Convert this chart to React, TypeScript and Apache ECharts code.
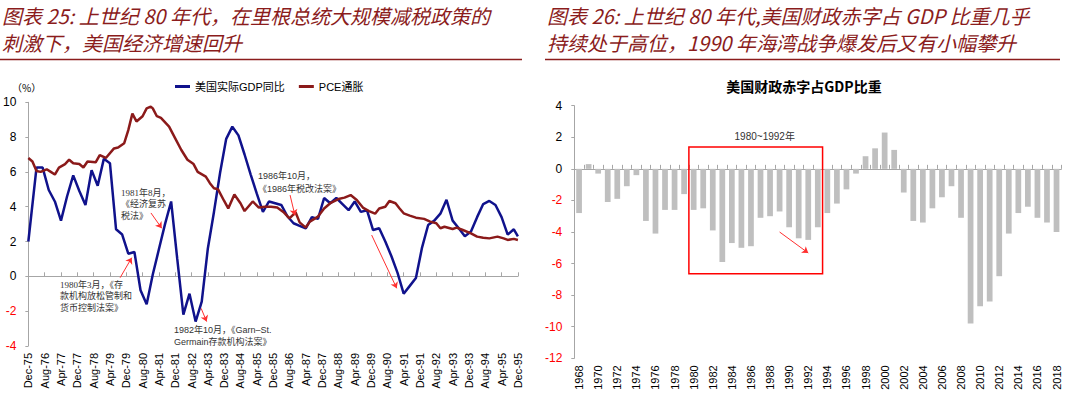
import React, { useEffect, useRef } from "react";
import * as echarts from "echarts";

// ---------- Left chart data (month index 0 = Dec-75, 240 = Dec-95) ----------
const monthNames = ["Jan", "Feb", "Mar", "Apr", "May", "Jun", "Jul", "Aug", "Sep", "Oct", "Nov", "Dec"];

// US real GDP YoY (%), quarterly
const gdpMonths = [
  0, 4, 7, 10, 13, 16, 19, 22, 25, 28,
  31, 34, 37, 40, 43, 46, 49, 52, 55, 58,
  61, 64, 67, 70, 73, 76, 79, 82, 85, 88,
  91, 94, 97, 100, 103, 106, 109, 112, 115, 118,
  121, 124, 127, 130, 133, 136, 139, 142, 145, 148,
  151, 154, 157, 160, 163, 166, 169, 172, 175, 178,
  181, 184, 187, 190, 193, 196, 199, 202, 205, 208,
  211, 214, 217, 220, 223, 226, 229, 232, 235, 238,
  240,
];
const gdpValues = [
  2.0, 6.25, 6.25, 4.96, 4.3, 3.2, 4.6, 5.8, 4.9, 4.1,
  6.1, 5.2, 6.75, 6.5, 2.7, 2.4, 1.3, 1.4, -0.8, -1.6,
  0.1, 1.55, 3.0, 4.3, 1.0, -2.2, -1.0, -2.6, -1.45, 1.6,
  3.7, 5.95, 7.9, 8.6, 8.1, 7.0, 5.85, 4.75, 3.7, 4.3,
  4.2, 4.1, 3.45, 3.05, 2.9, 2.75, 3.4, 3.3, 4.5, 4.2,
  4.5, 4.15, 3.8, 4.3, 3.7, 3.8, 2.66, 2.76, 2.0, 1.15,
  0.2, -1.0, -0.55, -0.1, 1.65, 2.95, 3.2, 3.6, 4.4, 3.2,
  2.76, 2.3, 2.57, 3.4, 4.15, 4.33, 4.1, 3.4, 2.4, 2.7,
  2.3,
];

// PCE inflation (%)
const pceMonths = [
  0, 2, 4, 6, 9, 11, 13, 15, 18, 20, 22, 25, 27, 29, 33, 35, 38, 42, 44, 47,
  49, 51, 53, 56, 58, 60, 61, 63, 65, 69, 72, 75, 78, 81, 83, 87, 89, 91, 93, 96,
  98, 101, 104, 106, 110, 113, 116, 119, 122, 125, 128, 131, 133, 136, 138, 142, 145, 148, 152, 155,
  158, 161, 164, 167, 170, 172, 175, 177, 180, 182, 184, 187, 190, 194, 197, 200, 202, 204, 208, 210,
  213, 217, 220, 223, 226, 230, 233, 235, 238, 240,
];
const pceValues = [
  6.8, 6.6, 6.05, 6.0, 6.15, 6.0, 5.85, 6.25, 6.45, 6.7, 6.5, 6.45, 6.25, 6.6, 6.55, 6.97, 6.8, 7.35, 7.4, 7.65,
  8.4, 9.35, 8.9, 9.2, 9.65, 9.75, 9.65, 9.2, 9.1, 8.6, 7.93, 7.26, 6.7, 6.45, 6.0, 5.73, 5.35, 5.06, 5.0, 4.33,
  3.9, 4.7, 4.2, 3.75, 4.3, 3.95, 4.0, 4.0, 3.95, 3.7, 3.33, 3.68, 3.1, 2.8, 3.14, 3.43, 3.9, 4.2, 4.44, 4.52,
  4.67, 4.39, 3.95, 3.75, 3.6, 3.9, 4.0, 4.33, 4.2, 3.9, 3.62, 3.49, 3.37, 3.3, 3.14, 3.05, 2.76, 2.85, 2.72, 2.8,
  2.66, 2.47, 2.28, 2.22, 2.18, 2.28, 2.18, 2.09, 2.15, 2.09,
];

// annotation arrows on left chart: [fromMonth, fromValue, toMonth, toValue]
const leftArrows = [
  [60.1, 3.64, 65.4, 2.76],
  [45.0, -0.08, 50.7, 1.07],
  [84.7, -1.84, 87.4, -2.6],
  [128.3, 4.67, 130.7, 3.5],
  [168.3, 2.37, 180.6, -0.69],
];

// ---------- Right chart data ----------
const years = [
  "1968", "1969", "1970", "1971", "1972", "1973", "1974", "1975", "1976", "1977",
  "1978", "1979", "1980", "1981", "1982", "1983", "1984", "1985", "1986", "1987",
  "1988", "1989", "1990", "1991", "1992", "1993", "1994", "1995", "1996", "1997",
  "1998", "1999", "2000", "2001", "2002", "2003", "2004", "2005", "2006", "2007",
  "2008", "2009", "2010", "2011", "2012", "2013", "2014", "2015", "2016", "2017",
  "2018",
];
const deficitValues = [
  -2.8, 0.3, -0.3, -2.1, -1.9, -1.1, -0.4, -3.3, -4.1, -2.6,
  -2.6, -1.6, -2.6, -2.5, -3.9, -5.9, -4.7, -5.0, -4.9, -3.1,
  -3.0, -2.7, -3.7, -4.4, -4.5, -3.7, -2.8, -2.2, -1.3, -0.3,
  0.8, 1.3, 2.3, 1.2, -1.5, -3.3, -3.4, -2.5, -1.8, -1.1,
  -3.1, -9.8, -8.7, -8.4, -6.8, -4.1, -2.8, -2.4, -3.1, -3.4,
  -4.0,
];
const rightArrow = [21.36, -4.0, 23.87, -5.33];
const boxRange = [11.5, 1.38, 24.5, -6.64];

// ---------- Texts ----------
const leftTitle = ["图表 25: 上世纪 80 年代，在里根总统大规模减税政策的", "刺激下，美国经济增速回升"];
const rightTitle = ["图表 26: 上世纪 80 年代,美国财政赤字占 GDP 比重几乎", "持续处于高位，1990 年海湾战争爆发后又有小幅攀升"];
const legendNames = ["美国实际GDP同比", "PCE通胀"];

const SANS = "'Liberation Sans', Arial, 'Noto Sans CJK SC', sans-serif";
const SERIF = "'Liberation Serif', 'Noto Sans CJK SC', serif";
const TITLE_COLOR = "#8B1C1C";
const AXIS_GRAY = "#A6A6A6";

function monthLabel(v: number) {
  const t = 11 + Math.round(v);
  return monthNames[t % 12] + "-" + String(75 + Math.floor(t / 12));
}

const labelColor = (v: any) => (Number(v) < 0 ? "#FF0000" : "#000000");

export default function App() {
  const ref = useRef<HTMLDivElement>(null);

  useEffect(() => {
    if (!ref.current) return;
    const chart = echarts.init(ref.current, undefined, { renderer: "svg" });

    const titleText = (text: string, x: number, y: number) => ({
      type: "text",
      x,
      y,
      style: {
        text,
        fill: TITLE_COLOR,
        fontSize: 20,
        lineHeight: 22,
        fontStyle: "italic",
        fontFamily: "'Noto Sans CJK SC', sans-serif",
        verticalAlign: "middle",
        align: "left",
      },
    });

    const note = (text: string, x: number, y: number, lh: number, family: string) => ({
      type: "text",
      x,
      y,
      style: {
        text,
        fill: "#333333",
        fontSize: 9,
        lineHeight: lh,
        fontFamily: family,
        verticalAlign: "top",
        align: "left",
      },
    });

    const option: any = {
      animation: false,
      textStyle: { fontFamily: SANS },
      graphic: [
        titleText(leftTitle[0], 2, 15),
        titleText(leftTitle[1], 2, 42),
        titleText(rightTitle[0], 547, 15),
        titleText(rightTitle[1], 547, 42),
        { type: "line", shape: { x1: 0, y1: 59.5, x2: 522, y2: 59.5 }, style: { stroke: TITLE_COLOR, lineWidth: 1.5 } },
        { type: "line", shape: { x1: 545, y1: 59.5, x2: 1060, y2: 59.5 }, style: { stroke: TITLE_COLOR, lineWidth: 1.5 } },
        {
          type: "text", x: 12, y: 87,
          style: { text: "（%）", fill: "#000", fontSize: 10, fontFamily: "'Noto Sans CJK SC', sans-serif", verticalAlign: "middle" },
        },
        {
          type: "text", x: 804, y: 86,
          style: { text: "美国财政赤字占GDP比重", fill: "#000", fontSize: 14, fontWeight: "bold", fontFamily: "'Noto Sans CJK SC', sans-serif", align: "center", verticalAlign: "middle" },
        },
        note("1981年8月，\n《经济复苏\n税法》", 121, 187, 11.5, SERIF),
        note("1980年3月，《存\n款机构放松管制和\n货币控制法案》", 60, 279, 11.5, SERIF),
        note("1982年10月，《Garn–St.\nGermain存款机构法案》", 174, 324, 11.7, SANS),
        note("1986年10月，\n《1986年税改法案》", 258, 169.5, 13, SANS),
      ],
      legend: {
        left: 170,
        top: 76,
        icon: "rect",
        itemWidth: 15,
        itemHeight: 3,
        itemGap: 14,
        textStyle: { fontSize: 11, color: "#000" },
        data: legendNames,
      },
      grid: [
        { left: 28.3, top: 102.3, width: 489.6, height: 243.6 },
        { left: 574.3, top: 105.7, width: 487, height: 252.6 },
      ],
      xAxis: [
        {
          type: "value", gridIndex: 0, min: 0, max: 240, interval: 8, position: "bottom",
          axisLine: { show: false, onZero: false }, axisTick: { show: false }, splitLine: { show: false },
          axisLabel: { rotate: 90, margin: 7, fontSize: 11, color: "#000", formatter: monthLabel },
        },
        {
          type: "value", gridIndex: 0, min: 0, max: 240, interval: 8, position: "bottom",
          axisLine: { show: true, onZero: true, lineStyle: { color: AXIS_GRAY, width: 1 } },
          axisTick: { show: true, inside: true, length: 4, lineStyle: { color: AXIS_GRAY } },
          axisLabel: { show: false }, splitLine: { show: false },
        },
        {
          type: "category", gridIndex: 1, data: years, position: "bottom",
          axisLine: { show: false, onZero: false }, axisTick: { show: false },
          axisLabel: { rotate: 90, interval: 1, margin: 7, fontSize: 11, color: "#000" },
        },
        {
          type: "category", gridIndex: 1, data: years, position: "bottom",
          axisLine: { show: true, onZero: true, lineStyle: { color: AXIS_GRAY, width: 1 } },
          axisTick: { show: true, inside: true, length: 4, interval: 0, lineStyle: { color: AXIS_GRAY } },
          axisLabel: { show: false },
        },
      ],
      yAxis: [
        {
          type: "value", gridIndex: 0, min: -4, max: 10, interval: 2,
          axisLine: { show: true, lineStyle: { color: AXIS_GRAY } },
          axisTick: { show: true, length: 3, lineStyle: { color: AXIS_GRAY } },
          splitLine: { show: false },
          axisLabel: { fontSize: 12, margin: 12, color: labelColor },
        },
        {
          type: "value", gridIndex: 1, min: -12, max: 4, interval: 2,
          axisLine: { show: true, lineStyle: { color: AXIS_GRAY } },
          axisTick: { show: true, length: 3, lineStyle: { color: AXIS_GRAY } },
          splitLine: { show: false },
          axisLabel: { fontSize: 12, margin: 12, color: labelColor },
        },
      ],
      series: [
        {
          name: legendNames[0],
          type: "line",
          xAxisIndex: 0,
          yAxisIndex: 0,
          data: gdpValues.map((v, i) => [gdpMonths[i], v]),
          showSymbol: false,
          symbol: "none",
          lineStyle: { width: 2.5, color: "#10128C" },
          itemStyle: { color: "#10128C" },
          markLine: {
            silent: true,
            symbol: ["none", "arrow"],
            symbolSize: 6,
            label: { show: false },
            lineStyle: { color: "#FF3030", width: 1, type: "solid" },
            emphasis: { disabled: true },
            data: leftArrows.map((a) => [{ coord: [a[0], a[1]] }, { coord: [a[2], a[3]] }]),
          },
        },
        {
          name: legendNames[1],
          type: "line",
          xAxisIndex: 0,
          yAxisIndex: 0,
          data: pceValues.map((v, i) => [pceMonths[i], v]),
          showSymbol: false,
          symbol: "none",
          lineStyle: { width: 2.5, color: "#8B1A1A" },
          itemStyle: { color: "#8B1A1A" },
        },
        {
          name: "财政赤字",
          type: "bar",
          xAxisIndex: 2,
          yAxisIndex: 1,
          data: deficitValues,
          barWidth: "60%",
          itemStyle: { color: "#BFBFBF" },
          markArea: {
            silent: true,
            itemStyle: { color: "rgba(0,0,0,0)", borderColor: "#FF0000", borderWidth: 1.5 },
            label: { show: true, position: "top", formatter: "1980~1992年", color: "#333", fontSize: 10, offset: [9, 0] },
            data: [[{ coord: [boxRange[0], boxRange[1]] }, { coord: [boxRange[2], boxRange[3]] }]],
          },
          markLine: {
            silent: true,
            symbol: ["none", "arrow"],
            symbolSize: 6,
            label: { show: false },
            lineStyle: { color: "#FF3030", width: 1, type: "solid" },
            data: [[{ coord: [rightArrow[0], rightArrow[1]] }, { coord: [rightArrow[2], rightArrow[3]] }]],
          },
        },
      ],
    };

    chart.setOption(option);
    return () => chart.dispose();
  }, []);

  return (
    <div
      ref={ref}
      style={{ position: "fixed", left: 0, top: 0, width: 1080, height: 396, background: "#fff" }}
    />
  );
}
